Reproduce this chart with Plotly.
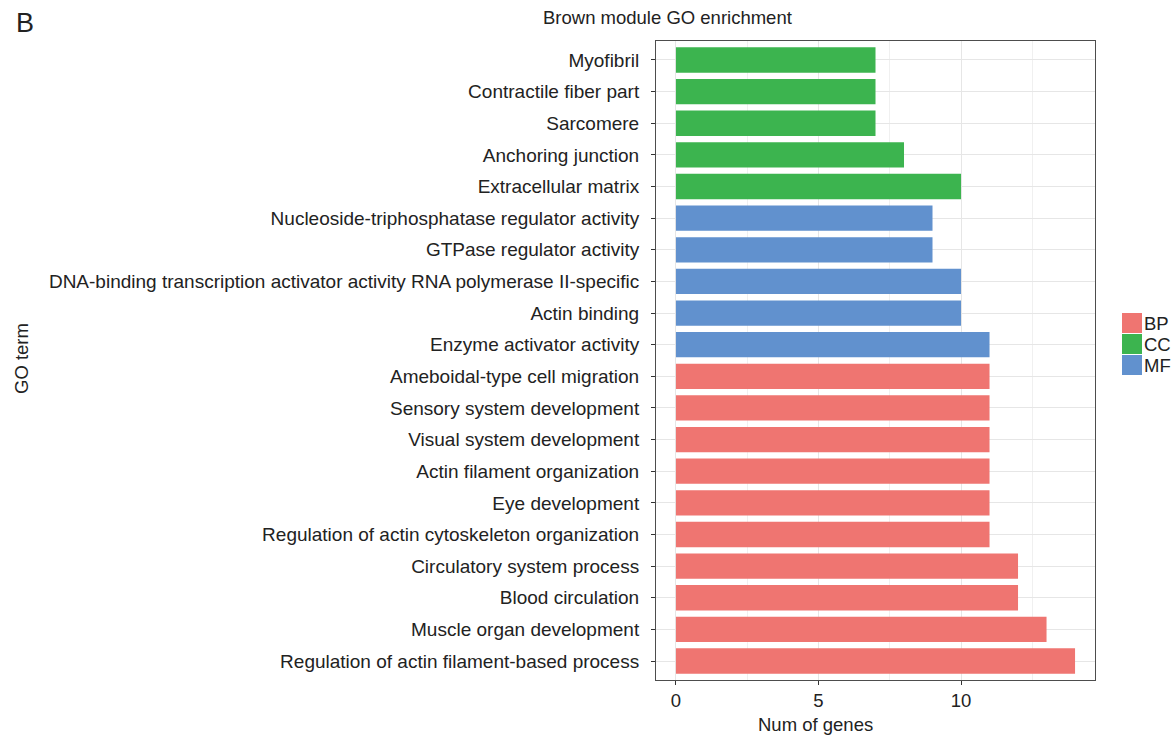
import plotly.graph_objects as go

# GO terms, listed bottom to top of the chart
terms = [
    "Regulation of actin filament-based process",
    "Muscle organ development",
    "Blood circulation",
    "Circulatory system process",
    "Regulation of actin cytoskeleton organization",
    "Eye development",
    "Actin filament organization",
    "Visual system development",
    "Sensory system development",
    "Ameboidal-type cell migration",
    "Enzyme activator activity",
    "Actin binding",
    "DNA-binding transcription activator activity RNA polymerase II-specific",
    "GTPase regulator activity",
    "Nucleoside-triphosphatase regulator activity",
    "Extracellular matrix",
    "Anchoring junction",
    "Sarcomere",
    "Contractile fiber part",
    "Myofibril",
]
gene_counts = [14, 13, 12, 12, 11, 11, 11, 11, 11, 11,
               11, 10, 10, 9, 9,
               10, 8, 7, 7, 7]
ontology = ["BP"] * 10 + ["MF"] * 5 + ["CC"] * 5

categories = ["BP", "CC", "MF"]
palette = {"BP": "#EF7571", "CC": "#3CB44F", "MF": "#6191CE"}

FONT = "Liberation Sans, Arial, Helvetica, sans-serif"
FS = 18.5
TXT = "#222222"

# plot-area pixel box, used to place paper-referenced annotations
L, R, T, B = 656, 1095, 41, 680
def px(x):
    return (x - L) / (R - L)
def py(y):
    return (B - y) / (B - T)

fig = go.Figure()
for cat in categories:
    ys = [t for t, o in zip(terms, ontology) if o == cat]
    xs = [v for v, o in zip(gene_counts, ontology) if o == cat]
    fig.add_trace(go.Bar(
        x=xs, y=ys, orientation="h", name=cat,
        marker=dict(color=palette[cat], line=dict(width=0)),
        width=0.8, showlegend=False,
    ))

fig.update_layout(
    width=1175, height=738,
    margin=dict(l=L, r=1175 - R, t=T, b=738 - B, autoexpand=False),
    paper_bgcolor="white", plot_bgcolor="white",
    font=dict(family=FONT, size=FS, color=TXT),
    barmode="overlay",
)

fig.update_xaxes(
    range=[-0.7, 14.7], automargin=False,
    tickmode="array", tickvals=[0, 5, 10], ticktext=["0", "5", "10"],
    ticks="outside", ticklen=4, tickcolor="#333333",
    showgrid=True, gridcolor="#E6E6E6", gridwidth=1.2,
    minor=dict(tickvals=[2.5, 7.5, 12.5], showgrid=True,
               gridcolor="#F0F0F0", gridwidth=1),
    showline=True, linecolor="#4D4D4D", linewidth=1, mirror=True,
    zeroline=False,
    tickfont=dict(size=FS, color=TXT),
    title=None,
)
fig.update_yaxes(
    type="category", categoryorder="array", categoryarray=terms,
    range=[-0.6, 19.6], automargin=False,
    ticks="outside", ticklen=4, tickcolor="#333333",
    showgrid=True, gridcolor="#E6E6E6", gridwidth=1.2,
    showline=True, linecolor="#4D4D4D", linewidth=1, mirror=True,
    tickfont=dict(size=19, color=TXT),
    ticklabelstandoff=8,
    title=None,
)

# Titles and labels
fig.add_annotation(text="Brown module GO enrichment", x=px(667), y=py(18),
                   xref="paper", yref="paper", showarrow=False,
                   xanchor="center", yanchor="middle",
                   font=dict(size=FS, color=TXT))
fig.add_annotation(text="B", x=px(25), y=py(23),
                   xref="paper", yref="paper", showarrow=False,
                   xanchor="center", yanchor="middle",
                   font=dict(size=27, color=TXT))
fig.add_annotation(text="GO term", x=px(21), y=py(359),
                   xref="paper", yref="paper", showarrow=False,
                   textangle=-90, xanchor="center", yanchor="middle",
                   font=dict(size=FS, color=TXT))
fig.add_annotation(text="Num of genes", x=px(815), y=py(725),
                   xref="paper", yref="paper", showarrow=False,
                   xanchor="center", yanchor="middle",
                   font=dict(size=FS, color=TXT))

# Legend keys
key_top = 313
key_h = 21
for i, cat in enumerate(categories):
    y0 = key_top + i * key_h
    fig.add_shape(type="rect", xref="paper", yref="paper",
                  x0=px(1122), x1=px(1142),
                  y0=py(y0), y1=py(y0 + key_h - 1),
                  fillcolor=palette[cat], line=dict(width=0))
    fig.add_annotation(text=cat, x=px(1142),
                       y=py(y0 + key_h / 2),
                       xref="paper", yref="paper", showarrow=False,
                       xanchor="left", yanchor="middle",
                       font=dict(size=FS, color=TXT))

fig.write_html("out.html")
